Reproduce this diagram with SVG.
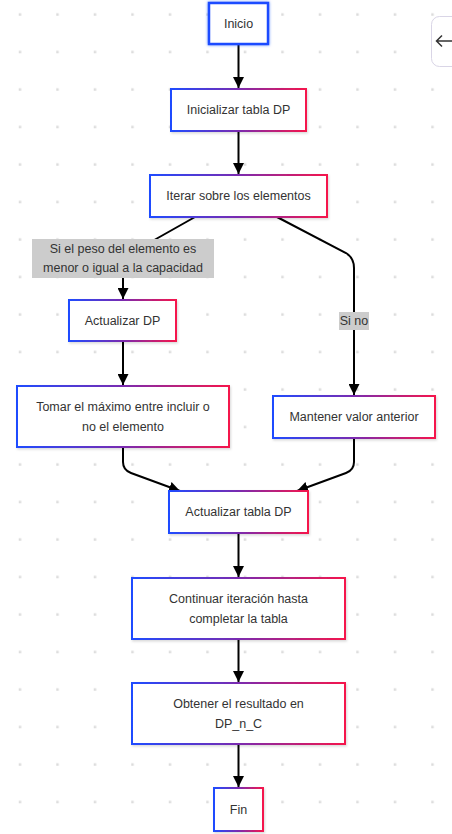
<svg xmlns="http://www.w3.org/2000/svg" width="452" height="834" viewBox="0 0 452 834">
<defs>
<pattern id="dots" x="0" y="0" width="37.5" height="37.5" patternUnits="userSpaceOnUse">
<rect x="18.75" y="13.25" width="2.5" height="2.5" fill="#dcdcdc"/>
</pattern>
<linearGradient id="grad" x1="0" y1="0" x2="1" y2="0">
<stop offset="0" stop-color="#1f4bff"/>
<stop offset="0.5" stop-color="#7a2bb0"/>
<stop offset="1" stop-color="#f5164c"/>
</linearGradient>
<filter id="shadow" x="-10%" y="-20%" width="120%" height="150%">
<feDropShadow dx="1" dy="1.5" stdDeviation="1.2" flood-color="#000" flood-opacity="0.15"/>
</filter>
<filter id="glow" x="-20%" y="-30%" width="140%" height="160%">
<feDropShadow dx="0" dy="0" stdDeviation="1.5" flood-color="#1f4bff" flood-opacity="0.6"/>
</filter>
<marker id="arrow" viewBox="0 0 10 10" refX="10" refY="5" markerWidth="11" markerHeight="11" markerUnits="userSpaceOnUse" orient="auto">
<path d="M0,0 L10,5 L0,10 z" fill="#000"/>
</marker>
</defs>
<style>
.node rect { fill: #fff; stroke: url(#grad); stroke-width: 2; filter: url(#shadow); }
#n-inicio rect { stroke: #1f4bff; stroke-width: 2.5; filter: url(#glow); }
text { font-family: "Liberation Sans", Arial, sans-serif; font-size: 12.5px; fill: #333; text-anchor: middle; }
.edge { fill: none; stroke: #000; stroke-width: 2; marker-end: url(#arrow); }
.lbl rect { fill: #cccccc; }
</style>
<rect width="452" height="834" fill="#fff"/>
<rect width="452" height="834" fill="url(#dots)"/>

<g id="toolbar">
<rect x="431.5" y="16.5" width="40" height="50" rx="8" fill="#fff" stroke="#d9d5e6" stroke-width="1"/>
<path d="M442,35.5 L436.5,41 L442,46.5 M436.5,41 H452" fill="none" stroke="#333" stroke-width="1.5"/>
</g>

<g id="connectors">
<path class="edge" d="M238.5,44 L238.5,88"/>
<path class="edge" d="M238.5,131 L238.5,174"/>
<path class="edge" d="M195,217 L133,252 Q123,258 123,268 L123,299"/>
<path class="edge" d="M277,217 L346,253 Q354,258 354,268 L354,395"/>
<path class="edge" d="M123,341 L123,385"/>
<path class="edge" d="M123,447 L123,462 Q123,470 131,473 L180,491"/>
<path class="edge" d="M354,438 L354,462 Q354,470 346,473 L297,491"/>
<path class="edge" d="M238.5,533 L238.5,577"/>
<path class="edge" d="M238.5,639 L238.5,682"/>
<path class="edge" d="M238.5,744 L238.5,787"/>
</g>

<g id="edge-labels">
<g class="lbl" id="l-si">
<rect x="32" y="239" width="182" height="39"/>
<text x="123" y="248.5" dy="0.35em">Si el peso del elemento es</text>
<text x="123" y="267.5" dy="0.35em">menor o igual a la capacidad</text>
</g>
<g class="lbl" id="l-sino">
<rect x="339" y="312" width="30" height="18"/>
<text x="354" y="321" dy="0.35em">Si no</text>
</g>
</g>

<g class="node" id="n-inicio">
<rect x="209" y="3" width="59" height="41"/>
<text x="238.5" y="23.5" dy="0.35em">Inicio</text>
</g>
<g class="node" id="n-inicializar">
<rect x="171" y="89" width="135" height="42"/>
<text x="238.5" y="110" dy="0.35em">Inicializar tabla DP</text>
</g>
<g class="node" id="n-iterar">
<rect x="150" y="175" width="177" height="42"/>
<text x="238.5" y="196" dy="0.35em">Iterar sobre los elementos</text>
</g>
<g class="node" id="n-actualizar-dp">
<rect x="69" y="300" width="107" height="41"/>
<text x="122.5" y="320.5" dy="0.35em">Actualizar DP</text>
</g>
<g class="node" id="n-tomar">
<rect x="17" y="386" width="212" height="61"/>
<text x="123" y="406.5" dy="0.35em">Tomar el máximo entre incluir o</text>
<text x="123" y="426.5" dy="0.35em">no el elemento</text>
</g>
<g class="node" id="n-mantener">
<rect x="273" y="396" width="162" height="42"/>
<text x="354" y="417" dy="0.35em">Mantener valor anterior</text>
</g>
<g class="node" id="n-actualizar-tabla">
<rect x="169" y="491" width="139" height="42"/>
<text x="238.5" y="512" dy="0.35em">Actualizar tabla DP</text>
</g>
<g class="node" id="n-continuar">
<rect x="132" y="578" width="213" height="61"/>
<text x="238.5" y="598.5" dy="0.35em">Continuar iteración hasta</text>
<text x="238.5" y="618.5" dy="0.35em">completar la tabla</text>
</g>
<g class="node" id="n-obtener">
<rect x="132" y="683" width="213" height="61"/>
<text x="238.5" y="703.5" dy="0.35em">Obtener el resultado en</text>
<text x="238.5" y="723.5" dy="0.35em">DP_n_C</text>
</g>
<g class="node" id="n-fin">
<rect x="214" y="788" width="49" height="43"/>
<text x="238.5" y="809.5" dy="0.35em">Fin</text>
</g>
</svg>
